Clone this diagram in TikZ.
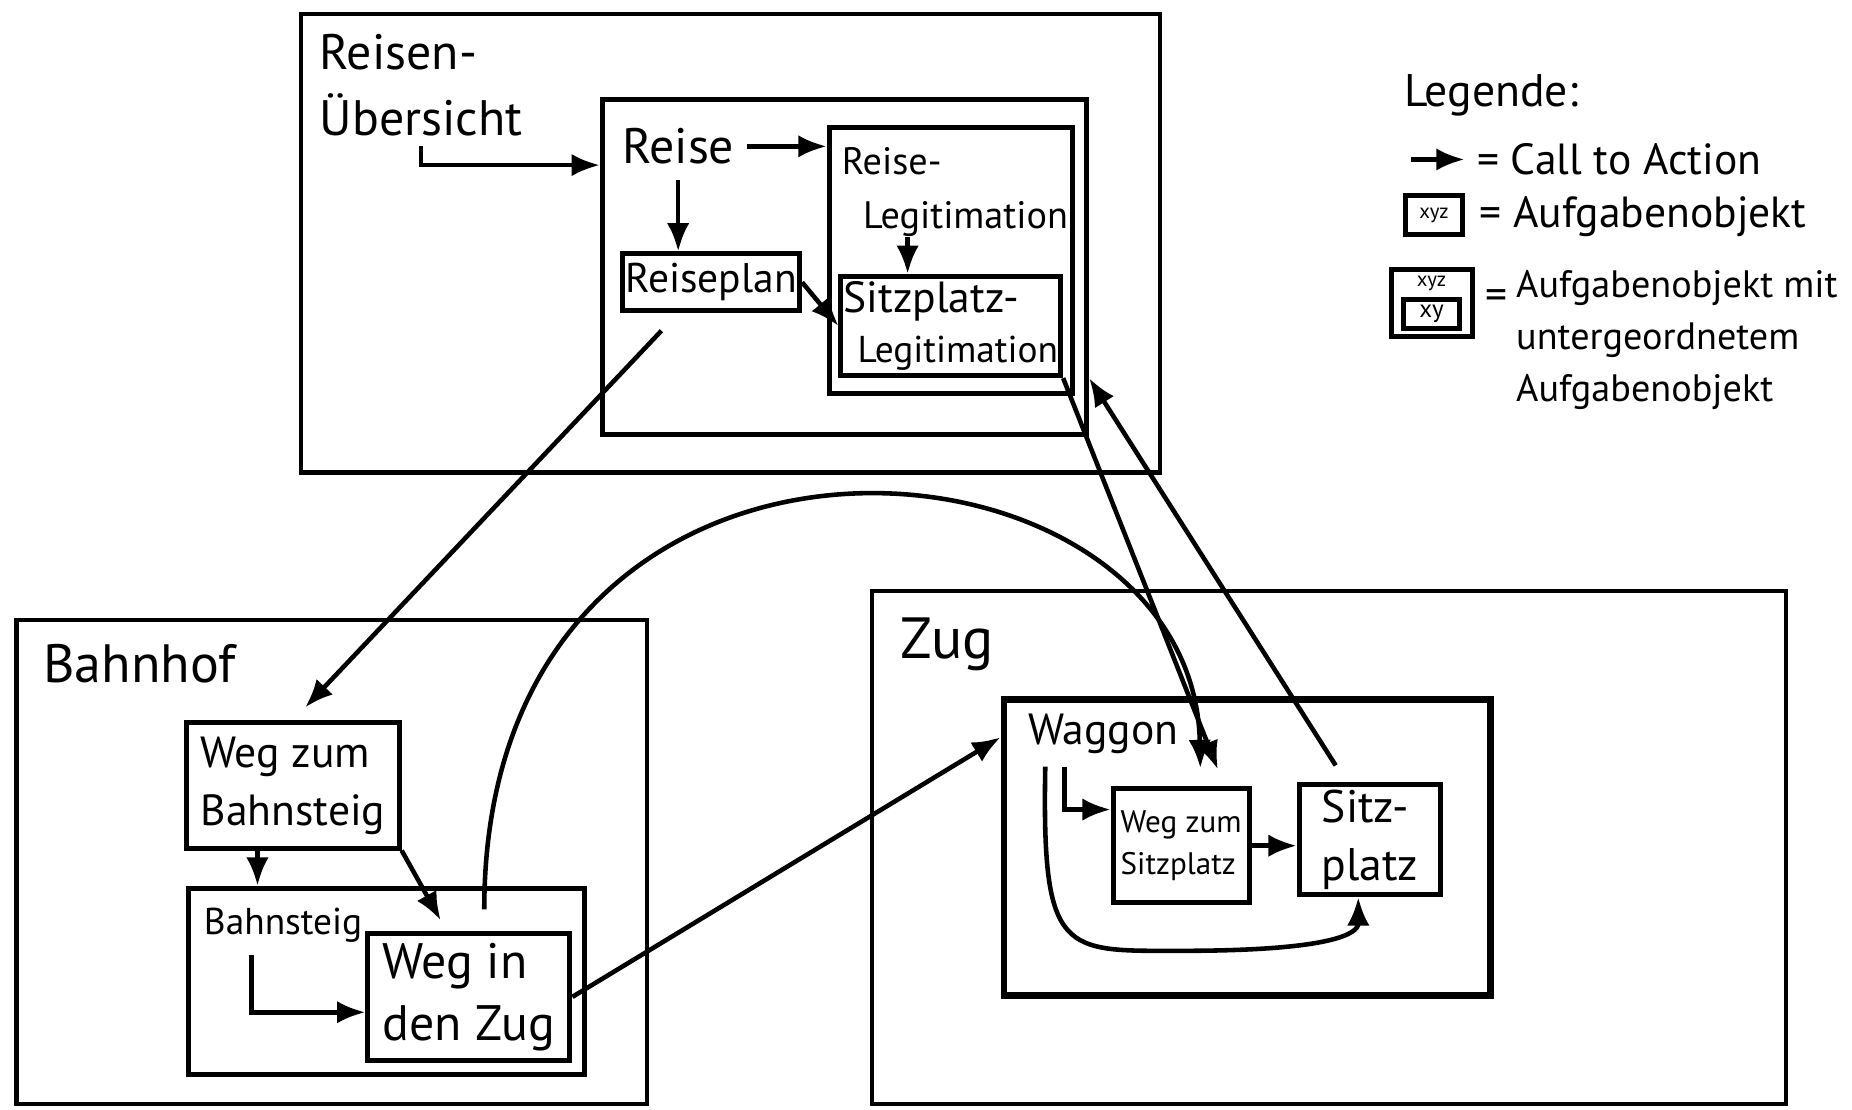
\documentclass[tikz,border=0pt]{standalone}
\usepackage{fontspec}
\setmainfont{PT Sans}
\usetikzlibrary{arrows.meta,positioning,fit,calc}
\newcommand{\fsz}[2]{\fontsize{#1}{#2}\selectfont}
\tikzset{
  frame/.style={draw, line width=1pt, inner sep=0pt},
  task/.style={draw, line width=1.2pt, inner sep=0pt},
  lbl/.style={anchor=north west, align=left, inner sep=0pt},
  legtext/.style={anchor=west, inner sep=0pt, font=\fsz{10.5}{13}},
  cta/.style={-{Latex[length=2.4mm,width=1.9mm]}, line width=1.1pt}
}
\begin{document}
\begin{tikzpicture}[x=0.1mm, y=-0.1mm]
  \useasboundingbox (0,0) rectangle (1568,939);
  % Reisen-Uebersicht
  \node[frame, fit={(255,12) (982,400)}] (uebers) {};
  \node[lbl, font=\fsz{12}{16}] (uebersT) at (270,28) {Reisen-\\Übersicht};
  \node[task, fit={(510,84) (920,368)}] (reise) {};
  \node[lbl, font=\fsz{12}{15}] (reiseT) at (526,108) {Reise};
  \node[task, minimum width=15mm, minimum height=4.8mm, font=\fsz{10}{12}] (rplan) at (602,239) {Reiseplan};
  \node[task, fit={(702,108) (908,333)}] (rlegi) {};
  \node[lbl, font=\fsz{9.2}{13}] (rlegiT) at (712,124) {Reise-\\\hspace*{1.8mm}Legitimation};
  \node[task, minimum width=18.6mm, minimum height=8.4mm, align=left] (slegi) at (805,276)
    {{\fsz{10.5}{13}Sitzplatz-}\\{\fsz{9}{13}\hspace*{1.2mm}Legitimation}};
  % Bahnhof
  \node[frame, fit={(14,525) (548,935)}] (bahnhof) {};
  \node[lbl, font=\fsz{13}{16}] (bahnhofT) at (36,545) {Bahnhof};
  \node[task, minimum width=18mm, minimum height=10.6mm, align=left, font=\fsz{10.5}{14}] (wzb) at (248,665) {Weg zum\\Bahnsteig};
  \node[task, fit={(160,752) (495,910)}] (bst) {};
  \node[lbl, font=\fsz{9}{11}] (bstT) at (172,768) {Bahnsteig};
  \node[task, minimum width=17.1mm, minimum height=10.8mm, align=left, font=\fsz{12}{15}] (wdz) at (397,844) {Weg in\\den Zug};
  % Zug
  \node[frame, fit={(738,500) (1512,935)}] (zug) {};
  \node[lbl, font=\fsz{14}{16}] (zugT) at (762,522) {Zug};
  \node[task, line width=1.6pt, fit={(850,592) (1262,843)}] (waggon) {};
  \node[lbl, font=\fsz{10.5}{14}] (waggonT) at (870,604) {Waggon};
  \node[task, minimum width=11.5mm, minimum height=9.7mm, align=left, font=\fsz{7.5}{10}] (wzs) at (1000,716) {Weg zum\\Sitzplatz};
  \node[task, minimum width=12mm, minimum height=9.3mm, align=left, font=\fsz{11}{14}] (sitz) at (1160,711) {Sitz-\\platz};
  % Legende
  \node[lbl, font=\fsz{11}{13}] (legT) at (1188,62) {Legende:};
  \coordinate (legA) at (1195,135);
  \node[legtext] (ctaT) at (1250,135) {= Call to Action};
  \node[task, minimum width=4.8mm, minimum height=3.3mm, font=\fsz{5}{6}] (legbox) at (1214,182) {xyz};
  \node[legtext] (aufgT) at (1252,183) {= Aufgabenobjekt};
  \node[task, fit={(1178,228) (1247,285)}] (legbig) {};
  \node[inner sep=0pt, font=\fsz{5}{6}] (legxyz) at (1212,240) {xyz};
  \node[task, minimum width=4.7mm, minimum height=2.5mm, font=\fsz{6}{7}] (legsub) at (1212,266) {xy};
  \node[legtext] (eqT) at (1257,254) {=};
  \node[lbl, font=\fsz{9.2}{12.5}] (untT) at (1283,228) {Aufgabenobjekt mit\\untergeordnetem\\Aufgabenobjekt};
  % calls to action
  \draw[cta] (legA) -- ([xshift=-1mm]ctaT.west);
  \draw[cta, shorten <=0.8mm] (uebersT.south) |- (reiseT.south -| reise.west);
  \draw[cta, shorten <=1mm] (reiseT.east) -- (reiseT.east -| rlegi.west);
  \draw[cta, shorten <=1.3mm] (reiseT.south) -- (reiseT.south |- rplan.north);
  \draw[cta] ([xshift=-4mm]rlegiT.south) -- ([xshift=-4mm]rlegiT.south |- slegi.north);
  \draw[cta] (rplan.east) -- (slegi.west);
  \coordinate (planOut) at (560,280);
  \draw[cta, shorten >=1.5mm] (planOut) -- (wzb.north);
  \draw[cta, shorten >=1.5mm] (slegi.south east) -- ([xshift=-2.3mm]wzs.north east);
  \draw[cta, shorten <=1.7mm] ([xshift=-2mm]sitz.north) -- ([xshift=2.2mm]slegi.south east);
  \draw[cta, shorten <=1.8mm, shorten >=1.5mm] ([xshift=1.3mm]wdz.north) .. controls (410,300) and (1010,350) .. ([xshift=-4.3mm]wzs.north east);
  \draw[cta] ([xshift=-3mm]wzb.south) -- ([xshift=-3mm]wzb.south |- bst.north);
  \draw[cta, shorten >=1mm] (wzb.south east) -- ([xshift=-1.9mm]wdz.north);
  \draw[cta, shorten <=1mm] ([xshift=-2.7mm]bstT.south) |- ([yshift=-1.3mm]wdz.west);
  \draw[cta] (wdz.east) -- ([yshift=-3.5mm]waggon.north west);
  \draw[cta, shorten <=1mm] ([xshift=-3.3mm]waggonT.south) |- ($(wzs.north west)+(0,20)$);
  \draw[cta] (wzs.east) -- (wzs.east -| sitz.west);
  \draw[cta, shorten <=1mm] ([xshift=-4.9mm]waggonT.south) .. controls (882,810) and (900,805) .. (1000,805) .. controls (1130,805) and (1150,790) .. ([xshift=-1mm]sitz.south);
\end{tikzpicture}
\end{document}
